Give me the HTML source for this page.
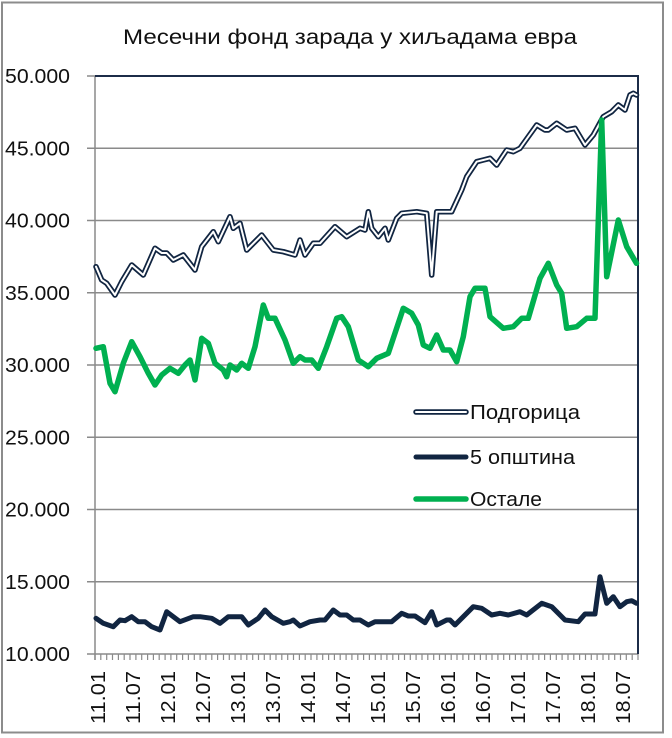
<!DOCTYPE html>
<html><head><meta charset="utf-8"><style>
html,body{margin:0;padding:0;background:#fff;}
svg{display:block;}
text{font-family:"Liberation Sans","DejaVu Sans",sans-serif;fill:#111;}
</style></head><body>
<svg width="672" height="738" viewBox="0 0 672 738" xmlns="http://www.w3.org/2000/svg">
<rect x="0" y="0" width="672" height="738" fill="#fff"/>
<rect x="2" y="2.5" width="661" height="730" fill="none" stroke="#8c8c8c" stroke-width="2"/>
<text x="350" y="44" font-size="21" text-anchor="middle" textLength="454" lengthAdjust="spacingAndGlyphs">Месечни фонд зарада у хиљадама евра</text>
<g stroke="#8a8a8a" stroke-width="1.5">
<line x1="87" y1="581.75" x2="638" y2="581.75"/>
<line x1="87" y1="509.5" x2="638" y2="509.5"/>
<line x1="87" y1="437.25" x2="638" y2="437.25"/>
<line x1="87" y1="365" x2="638" y2="365"/>
<line x1="87" y1="292.75" x2="638" y2="292.75"/>
<line x1="87" y1="220.5" x2="638" y2="220.5"/>
<line x1="87" y1="148.25" x2="638" y2="148.25"/>
<line x1="87" y1="76" x2="95" y2="76"/>
<line x1="87" y1="654" x2="638" y2="654"/>
<line x1="95" y1="76" x2="95" y2="660"/>
</g>
<polyline points="95,76 638,76 638,654" fill="none" stroke="#1c2c48" stroke-width="2"/>
<g font-size="20" text-anchor="end">
<text x="70" y="83" textLength="65" lengthAdjust="spacingAndGlyphs">50.000</text>
<text x="70" y="155.25" textLength="65" lengthAdjust="spacingAndGlyphs">45.000</text>
<text x="70" y="227.5" textLength="65" lengthAdjust="spacingAndGlyphs">40.000</text>
<text x="70" y="299.75" textLength="65" lengthAdjust="spacingAndGlyphs">35.000</text>
<text x="70" y="372" textLength="65" lengthAdjust="spacingAndGlyphs">30.000</text>
<text x="70" y="444.25" textLength="65" lengthAdjust="spacingAndGlyphs">25.000</text>
<text x="70" y="516.5" textLength="65" lengthAdjust="spacingAndGlyphs">20.000</text>
<text x="70" y="588.75" textLength="65" lengthAdjust="spacingAndGlyphs">15.000</text>
<text x="70" y="661" textLength="65" lengthAdjust="spacingAndGlyphs">10.000</text>
</g>
<g font-size="20" text-anchor="end">
<text transform="translate(98,671) rotate(-90)" dy="7" textLength="53" lengthAdjust="spacingAndGlyphs">11.01</text>
<text transform="translate(133,671) rotate(-90)" dy="7" textLength="53" lengthAdjust="spacingAndGlyphs">11.07</text>
<text transform="translate(168,671) rotate(-90)" dy="7" textLength="53" lengthAdjust="spacingAndGlyphs">12.01</text>
<text transform="translate(203,671) rotate(-90)" dy="7" textLength="53" lengthAdjust="spacingAndGlyphs">12.07</text>
<text transform="translate(238,671) rotate(-90)" dy="7" textLength="53" lengthAdjust="spacingAndGlyphs">13.01</text>
<text transform="translate(273,671) rotate(-90)" dy="7" textLength="53" lengthAdjust="spacingAndGlyphs">13.07</text>
<text transform="translate(308,671) rotate(-90)" dy="7" textLength="53" lengthAdjust="spacingAndGlyphs">14.01</text>
<text transform="translate(343,671) rotate(-90)" dy="7" textLength="53" lengthAdjust="spacingAndGlyphs">14.07</text>
<text transform="translate(378,671) rotate(-90)" dy="7" textLength="53" lengthAdjust="spacingAndGlyphs">15.01</text>
<text transform="translate(413,671) rotate(-90)" dy="7" textLength="53" lengthAdjust="spacingAndGlyphs">15.07</text>
<text transform="translate(448,671) rotate(-90)" dy="7" textLength="53" lengthAdjust="spacingAndGlyphs">16.01</text>
<text transform="translate(483,671) rotate(-90)" dy="7" textLength="53" lengthAdjust="spacingAndGlyphs">16.07</text>
<text transform="translate(518,671) rotate(-90)" dy="7" textLength="53" lengthAdjust="spacingAndGlyphs">17.01</text>
<text transform="translate(553,671) rotate(-90)" dy="7" textLength="53" lengthAdjust="spacingAndGlyphs">17.07</text>
<text transform="translate(588,671) rotate(-90)" dy="7" textLength="53" lengthAdjust="spacingAndGlyphs">18.01</text>
<text transform="translate(623,671) rotate(-90)" dy="7" textLength="53" lengthAdjust="spacingAndGlyphs">18.07</text>
</g>
<path stroke="#8a8a8a" stroke-width="1.2" d="M95.0,654v6M100.8,654v6M106.7,654v6M112.5,654v6M118.4,654v6M124.2,654v6M130.0,654v6M135.9,654v6M141.7,654v6M147.6,654v6M153.4,654v6M159.2,654v6M165.1,654v6M170.9,654v6M176.7,654v6M182.6,654v6M188.4,654v6M194.3,654v6M200.1,654v6M205.9,654v6M211.8,654v6M217.6,654v6M223.5,654v6M229.3,654v6M235.1,654v6M241.0,654v6M246.8,654v6M252.7,654v6M258.5,654v6M264.3,654v6M270.2,654v6M276.0,654v6M281.8,654v6M287.7,654v6M293.5,654v6M299.4,654v6M305.2,654v6M311.0,654v6M316.9,654v6M322.7,654v6M328.6,654v6M334.4,654v6M340.2,654v6M346.1,654v6M351.9,654v6M357.8,654v6M363.6,654v6M369.4,654v6M375.3,654v6M381.1,654v6M386.9,654v6M392.8,654v6M398.6,654v6M404.5,654v6M410.3,654v6M416.1,654v6M422.0,654v6M427.8,654v6M433.7,654v6M439.5,654v6M445.3,654v6M451.2,654v6M457.0,654v6M462.9,654v6M468.7,654v6M474.5,654v6M480.4,654v6M486.2,654v6M492.0,654v6M497.9,654v6M503.7,654v6M509.6,654v6M515.4,654v6M521.2,654v6M527.1,654v6M532.9,654v6M538.8,654v6M544.6,654v6M550.4,654v6M556.3,654v6M562.1,654v6M568.0,654v6M573.8,654v6M579.6,654v6M585.5,654v6M591.3,654v6M597.1,654v6M603.0,654v6M608.8,654v6M614.7,654v6M620.5,654v6M626.3,654v6M632.2,654v6M638.0,654v6"/>
<!-- Podgorica -->
<polyline fill="none" stroke="#112541" stroke-width="5.5" stroke-linejoin="round" stroke-linecap="round" points="96,266.7 101.7,280 106.7,283.3 115,295 121.7,281.7 131.7,265 143.3,275 155,248.3 161.7,253 166.7,253 173.3,260 183.3,255 195,270 201.7,246.7 213.3,231.7 218.3,241.7 230,216.7 233.3,228.3 240,223.3 246.7,250 261.7,235 273.3,250 283.3,251.7 295,255 300,240 305,255 313.3,243.3 320,243.3 335,226.7 346.7,236.7 360,228.3 365,230 368.3,211.7 371.7,228.3 378.3,236.7 385,228.3 388.3,240 396.7,218.3 401.7,213.3 416.7,211.7 426.7,213.3 431.7,275 436.7,211.7 445,211.7 451.7,211.7 461.7,190 466.7,176.7 476.7,161.7 483.3,160 490,158.3 496.7,165 506.7,150 513.3,151.7 520,148.3 528.3,136.7 536.7,125 545,130 548.3,130 556.7,123.3 566.7,130 575,128.3 585,145 593.3,135 603.3,116.7 611.7,111.7 618.3,105 625,110 630,95 633.3,93.3 636.5,95"/>
<polyline fill="none" stroke="#ffffff" stroke-width="2" stroke-linejoin="round" stroke-linecap="round" points="96,266.7 101.7,280 106.7,283.3 115,295 121.7,281.7 131.7,265 143.3,275 155,248.3 161.7,253 166.7,253 173.3,260 183.3,255 195,270 201.7,246.7 213.3,231.7 218.3,241.7 230,216.7 233.3,228.3 240,223.3 246.7,250 261.7,235 273.3,250 283.3,251.7 295,255 300,240 305,255 313.3,243.3 320,243.3 335,226.7 346.7,236.7 360,228.3 365,230 368.3,211.7 371.7,228.3 378.3,236.7 385,228.3 388.3,240 396.7,218.3 401.7,213.3 416.7,211.7 426.7,213.3 431.7,275 436.7,211.7 445,211.7 451.7,211.7 461.7,190 466.7,176.7 476.7,161.7 483.3,160 490,158.3 496.7,165 506.7,150 513.3,151.7 520,148.3 528.3,136.7 536.7,125 545,130 548.3,130 556.7,123.3 566.7,130 575,128.3 585,145 593.3,135 603.3,116.7 611.7,111.7 618.3,105 625,110 630,95 633.3,93.3 636.5,95"/>
<!-- 5 opstina -->
<polyline fill="none" stroke="#112541" stroke-width="5" stroke-linejoin="round" stroke-linecap="round" points="96,618.3 103.3,623.3 113.3,626.7 120,620 125,620.7 131.7,616.7 138.3,621.7 145,621.7 151.7,626.7 160,630 166.7,611.7 180,621.7 193.3,616.7 200,616.7 211.7,618.3 220,623.3 228.3,616.7 241.7,616.7 248.3,625 258.3,618.3 265,610 271.7,616.7 283.3,623.3 290,621.7 293.3,620 300,626 310,621.7 320,620 325,620 333.3,610 340,615 346.7,615 353.3,620 360,620 368.3,625 375,621.7 391.7,621.7 401.7,613.3 408.3,616 415,616 425,622.7 431.7,611.7 436.7,625 446.7,620 450,620 455,625 473.3,606.7 481.7,608.3 491.7,615 500,613.3 508.3,615 520,611.7 526.7,615 541.7,603.3 551.7,606.7 565,620 578.3,621.7 585,614 595,614 600,576.7 606.7,603.3 613.3,596.7 620,606.7 626.7,601.7 631.7,600.7 636.5,603.3"/>
<!-- Ostale -->
<polyline fill="none" stroke="#00b050" stroke-width="5.5" stroke-linejoin="round" stroke-linecap="round" points="96,348.3 103.3,346.7 110,383.3 115,391.7 123.3,363.3 131.7,341.7 140,356.7 148.3,373.3 155,385 161.7,375 170,368.3 178.3,373.3 185,365 190,360 195,380 201.7,338.3 208.3,343.3 215,363.3 223.3,370 226.7,376.7 230,365 236.7,370 241.7,363.3 248.3,368.3 255,346.7 263.3,305 268.3,318.3 275,318.3 285,340 293.3,363.3 300,356.7 305,360 311.7,360 318.3,368.3 326.7,346.7 336.7,318.3 341.7,316.7 348.3,326.7 358.3,360 368.3,366.7 376.7,358.3 388.3,353.3 403.3,308.3 411.7,313.3 418.3,325 423.3,345 430,348.3 436.7,335 443.3,350 450,350 456.7,361.7 463.3,336.7 470,296.7 475,288.3 485,288.3 490,316.7 503.3,328.3 513.3,326.7 521.7,318.3 528.3,318.3 540,278.3 548.3,263.3 556.7,285 561.7,293.3 566.7,328.3 576.7,326.7 586.7,318.3 595,318.3 601.7,120 606.7,276.7 618.3,220 626.7,246.7 636.5,263.3"/>
<!-- Legend -->
<line x1="416" y1="412" x2="466" y2="412" stroke="#112541" stroke-width="5.5" stroke-linecap="round"/>
<line x1="416" y1="412" x2="466" y2="412" stroke="#fff" stroke-width="2" stroke-linecap="round"/>
<line x1="416" y1="457" x2="466" y2="457" stroke="#112541" stroke-width="5" stroke-linecap="round"/>
<line x1="416" y1="499" x2="466" y2="499" stroke="#00b050" stroke-width="5.5" stroke-linecap="round"/>
<g font-size="20">
<text x="470" y="419" textLength="110" lengthAdjust="spacingAndGlyphs">Подгорица</text>
<text x="470" y="464" textLength="105" lengthAdjust="spacingAndGlyphs">5 општина</text>
<text x="470" y="506" textLength="72" lengthAdjust="spacingAndGlyphs">Остале</text>
</g>
</svg>
</body></html>
